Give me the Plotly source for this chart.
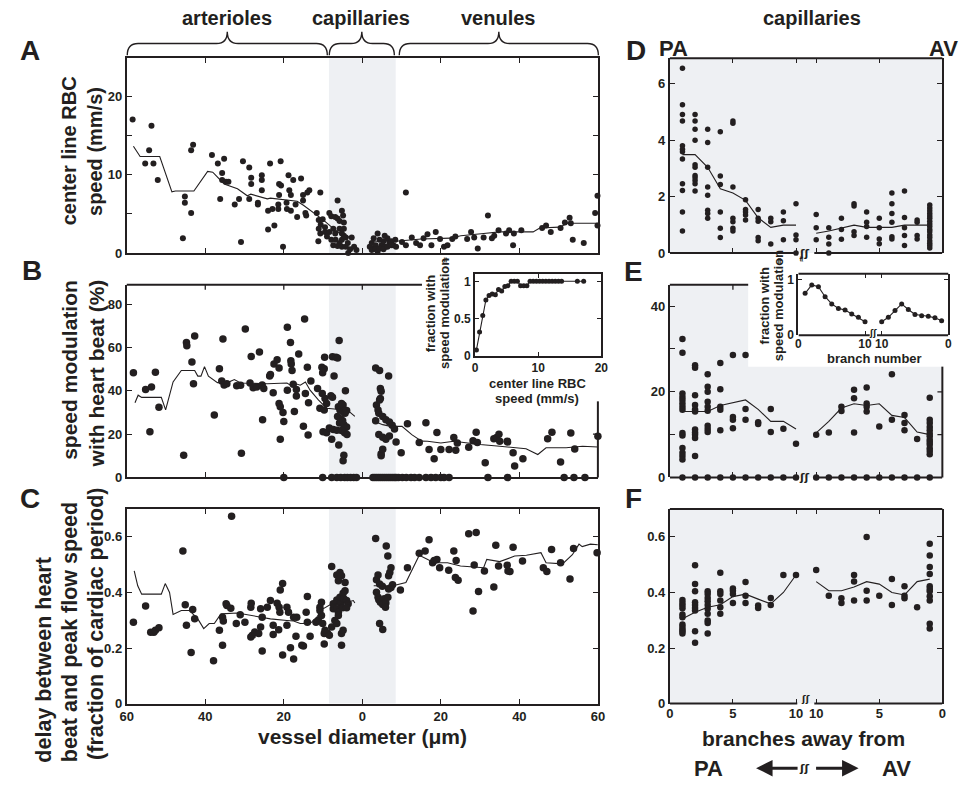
import plotly.graph_objects as go

# ---------------------------------------------------------------- data
# Panel A: centre-line RBC speed (mm/s) vs signed vessel position
# (negative = arteriole side, positive = venule side, |x| = diameter in um)
A_x = [-58.5,-53.7,-54.3,-55.3,-53.2,-52.1,-45.7,-45.2,-45.2,-43.6,
       -43.6,-43.1,-38.3,-36.8,-35.2,-35.7,-35.7,-34.7,-34.1,-36.2,
       -32.5,-31.4,-30.9,-30.4,-28.8,-28.3,-28.3,-28.8,-26.6,-26.6,
       -25.6,-25.6,-25.6,-24.0,-22.4,-23.5,-24.0,-22.9,-21.4,-21.4,
       -20.8,-21.2,-20.7,-21.2,-20.2,-19.3,-18.8,-17.6,-18.6,-18.2,
       -19.2,-18.2,-17.0,-16.6,-15.6,-15.1,-14.5,-14.3,-14.0,-13.5,
       -15.1,-10.7,-10.7,-11.6,-11.1,-10.1,-10.6,-11.1,-9.5,-11.2,
       -6.3,-8.4,-7.9,-5.2,-4.9,-6.9,-6.3,-5.8,-4.7,-9.5,
       -8.4,-7.4,-6.9,-5.8,-5.2,-4.7,-4.7,-9.0,-7.9,-6.8,
       -5.8,-7.4,-6.3,-5.2,-4.2,-5.2,-4.2,-3.6,-3.1,-2.1,
       -2.7,-1.5,-3.7,
       1.9,2.4,2.9,3.4,3.9,3.9,4.4,4.9,5.4,5.9,
       6.4,6.9,7.4,7.9,8.4,2.9,5.7,8.6,2.4,3.4,
       4.4,5.4,6.4,7.4,
       11.1,10.1,11.1,12.6,13.7,14.7,15.6,16.6,17.6,18.7,
       19.8,20.8,21.7,22.9,23.7,26.7,27.7,28.5,29.4,30.9,
       32.0,33.0,33.6,34.7,36.6,37.4,38.4,38.6,40.5,45.8,
       46.8,48.0,50.5,51.6,52.8,53.6,56.4,59.3,59.9,59.9,
       53.1]
A_speed = [17.0,16.2,13.1,11.4,11.4,9.3,1.9,7.2,6.4,5.1,
           13.1,13.8,12.5,11.4,12.0,10.2,9.3,9.1,9.1,6.9,
           6.2,6.9,1.4,11.7,10.9,9.6,8.8,6.9,6.4,6.2,
           9.9,9.3,8.0,3.0,3.5,11.4,5.4,5.6,6.2,5.6,
           11.7,8.8,8.6,7.4,0.8,6.4,9.9,9.3,8.0,7.4,
           5.6,5.4,6.2,4.6,9.5,7.4,5.1,4.8,7.7,8.0,
           6.7,7.7,2.5,5.1,4.2,4.3,3.6,3.1,3.3,1.5,
           6.7,5.1,4.7,5.4,4.8,4.6,4.4,4.1,3.9,2.7,
           2.7,3.1,2.5,3.1,2.5,3.1,2.2,2.1,1.7,1.7,
           1.3,1.0,0.9,1.7,2.0,0.8,0.8,0.0,0.5,0.8,
           2.0,0.4,1.3,
           0.8,1.3,0.6,1.0,0.2,2.5,1.7,1.0,1.5,0.8,
           1.9,1.3,1.5,1.0,1.7,1.9,2.2,0.8,0.4,0.5,
           0.6,0.5,0.8,1.0,
           7.7,1.4,1.0,2.0,1.3,1.0,1.9,2.4,1.0,2.7,
           1.8,0.8,1.0,1.8,2.1,1.8,2.7,2.0,0.6,2.0,
           4.8,1.9,2.2,2.9,2.5,2.9,1.0,2.5,2.9,3.2,
           3.5,2.7,3.2,3.9,4.5,1.7,1.3,5.1,7.3,3.5,
           3.8]
A_avg_art_x = [-58.3,-56.6,-51.6,-50.5,-48.5,-47.6,-42.9,-39.4,-38.1,-35.2,-31.8,-31.0,-29.3,
               -28.4,-24.2,-23.4,-17.5,-16.6,-15.0,-12.0,-9.9,-7.8,-5.7,-4.0,-2.3]
A_avg_art_y = [13.6,12.3,12.3,10.7,7.8,7.9,7.9,10.4,10.3,8.8,8.2,7.9,7.3,
               7.5,6.9,7.0,6.7,6.6,6.1,5.0,4.2,3.3,2.5,2.1,2.0]
A_avg_ven_x = [1.9,2.7,8.6,12.4,15.0,22.5,25.1,30.9,35.0,43.5,45.2,50.2,52.3,60.0]
A_avg_ven_y = [1.3,1.5,1.5,1.7,1.8,1.9,2.2,2.5,2.7,2.7,3.2,3.3,3.8,3.8]

# Panel B: speed modulation with heart beat (%)
B_x = [-58.3,-55.2,-53.7,-52.7,-54.1,-51.8,-45.5,-44.8,-44.7,-42.7,
       -43.4,-43.0,-37.7,-36.4,-35.5,-35.8,-35.2,-34.5,-32.0,-31.0,
       -30.8,-29.8,-28.3,-28.6,-27.8,-26.2,-26.9,-25.5,-25.1,-25.4,
       -23.6,-23.4,-22.7,-22.5,-21.7,-21.2,-21.2,-20.9,-20.2,-20.0,
       -20.9,-19.1,-19.1,-18.3,-18.2,-18.1,-17.9,-17.6,-17.3,-16.8,
       -16.8,-16.2,-15.0,-14.7,-14.5,-14.0,-13.7,-13.8,-13.1,-11.4,
       -10.3,-10.1,-10.2,-9.6,-9.7,-10.8,-9.7,-9.5,-9.1,-10.0,
       -9.1,-8.0,-7.6,-7.6,-6.7,-6.3,-5.9,-7.2,-8.4,-7.4,
       -6.5,-7.8,-6.0,-4.7,-4.9,-4.3,-6.1,-5.7,-5.3,-4.9,
       -4.4,-4.0,-6.3,-5.5,-5.0,-5.8,-4.7,-4.0,-5.3,-4.5,
       -3.9,-5.3,-4.9,
       3.4,4.4,4.6,4.8,6.7,3.6,4.0,4.6,4.4,3.4,
       4.2,5.2,6.0,6.9,7.6,8.2,4.2,5.2,6.0,6.9,
       4.8,4.8,5.2,8.6,9.9,11.5,14.5,
       16.2,19.0,23.3,24.2,23.8,17.0,18.3,20.0,22.1,27.1,
       28.2,29.0,29.3,33.5,34.2,34.8,35.0,36.9,31.3,37.0,
       38.8,40.9,38.4,47.2,48.3,50.5,53.1,54.1,60.0]
B_mod = [48.3,40.6,41.8,48.6,21.1,32.4,10.3,62.3,60.8,65.3,
         53.3,43.3,28.8,50.2,63.9,44.5,42.7,43.3,42.3,42.6,
         11.2,68.5,55.9,43.6,41.4,57.9,41.8,42.7,41.1,26.7,
         46.8,47.6,39.1,52.4,54.4,50.6,34.2,32.7,30.0,25.9,
         17.6,69.4,40.3,62.3,53.9,52.4,49.4,43.0,30.5,40.6,
         37.6,57.0,23.6,73.2,38.8,50.9,34.5,19.6,44.5,41.1,
         50.9,48.3,38.8,55.5,50.2,32.0,31.2,36.5,34.2,21.1,
         20.6,37.7,37.0,55.8,55.5,55.2,63.2,46.8,22.9,22.1,
         21.8,17.6,15.0,10.3,7.7,40.0,32.7,31.2,32.0,30.5,
         29.7,30.9,28.2,27.1,26.2,25.2,24.4,23.3,21.7,20.6,
         19.8,34.2,33.5,
         50.6,49.4,41.1,39.8,46.8,33.5,31.2,36.5,35.8,26.2,
         29.7,28.2,26.7,25.6,24.1,22.4,19.8,18.6,17.6,19.1,
         11.0,10.0,13.0,16.4,11.4,24.8,16.1,
         25.3,20.8,18.5,15.9,12.6,12.9,8.6,12.9,12.9,14.0,
         17.0,20.9,16.2,17.9,18.5,20.0,16.7,16.7,6.8,16.4,
         5.3,8.6,11.4,17.9,20.9,7.1,20.5,13.2,19.0]
B_zero_x = [-20.0,-10.1,-7.8,-6.5,-5.5,-4.5,-3.8,-3.0,-2.2,-1.5,
            2.7,3.2,3.7,4.2,4.7,5.2,5.7,6.2,6.7,7.2,7.7,8.2,8.6,9.2,10.2,
            11.2,12.4,13.3,14.5,16.2,17.5,18.7,20.0,20.8,22.1,32.0,37.0,51.4,53.9,56.7]
B_avg_art_x = [-57.9,-57.1,-56.2,-51.2,-50.1,-48.2,-46.1,-42.7,-41.9,-41.1,-40.2,-39.2,-36.9,-34.3,
               -32.6,-31.0,-24.2,-19.2,-18.3,-17.5,-15.8,-14.5,-13.3,-11.2,-9.1,-6.5,-4.4,-1.9]
B_avg_art_y = [34.5,38.0,37.0,37.0,31.2,44.1,49.4,49.4,46.8,46.8,51.2,46.8,43.8,43.8,
               45.2,43.6,43.3,43.6,42.6,43.6,42.6,44.1,40.3,35.8,32.0,31.5,32.0,28.2]
B_avg_ven_x = [3.1,5.2,7.2,10.1,12.6,15.1,16.6,20.0,23.3,26.7,30.0,35.0,38.4,41.7,44.7,46.8,51.9,56.1,60.0]
B_avg_ven_y = [25.9,24.4,23.6,23.6,19.8,16.8,16.7,15.9,16.7,15.9,15.2,14.4,13.7,13.3,10.6,13.7,13.7,14.4,14.1]

# Panel C: delay between heart beat and peak flow (fraction of cardiac period)
C_x = [-58.3,-55.2,-53.9,-53.1,-52.7,-51.8,-45.7,-45.1,-44.8,-43.2,
       -42.7,-43.6,-37.9,-36.4,-35.6,-35.6,-35.4,-34.7,-34.5,-33.5,
       -33.3,-32.1,-31.1,-29.9,-28.4,-28.0,-27.4,-28.4,-28.3,-26.4,
       -25.9,-25.5,-25.9,-25.5,-24.2,-23.4,-22.7,-22.7,-21.7,-21.2,
       -20.9,-20.3,-21.0,-21.3,-20.3,-19.2,-18.8,-19.2,-18.3,-17.5,
       -16.9,-16.7,-17.5,-15.4,-15.0,-14.3,-14.0,-14.0,-13.3,-11.8,
       -11.2,-10.8,-10.4,-10.8,-10.4,-10.1,-9.5,-9.7,-9.7,-8.9,
       -8.4,-7.8,-7.8,-7.0,-7.4,-6.5,-5.7,-4.9,-4.4,-6.5,
       -5.7,-5.3,-6.1,-4.4,-7.4,-6.5,-6.1,-5.5,-5.0,-4.7,
       -4.0,-3.6,-4.0,-6.1,-6.5,-5.3,-4.9,-5.3,
       3.4,3.6,4.0,4.4,5.1,3.6,4.0,4.2,4.6,5.2,
       5.6,6.0,6.5,5.9,4.4,5.2,6.1,6.5,6.7,7.0,
       7.3,6.7,7.3,7.7,9.7,11.5,14.5,
       16.0,17.0,17.9,18.3,19.0,19.7,22.0,23.3,23.9,23.7,
       24.4,27.1,29.0,28.5,28.2,29.6,31.1,33.5,34.0,34.7,
       36.9,37.1,37.6,38.4,40.8,46.1,47.0,48.2,50.5,52.9,
       53.8,59.8]
C_delay = [0.293,0.351,0.257,0.257,0.264,0.273,0.549,0.356,0.282,0.339,
           0.305,0.184,0.154,0.264,0.210,0.311,0.297,0.359,0.353,0.343,
           0.674,0.288,0.320,0.293,0.240,0.246,0.258,0.347,0.361,0.252,
           0.276,0.311,0.341,0.189,0.347,0.371,0.249,0.282,0.361,0.347,
           0.409,0.432,0.329,0.266,0.175,0.347,0.329,0.282,0.201,0.160,
           0.242,0.311,0.311,0.210,0.207,0.329,0.385,0.293,0.242,0.293,
           0.299,0.347,0.365,0.335,0.317,0.288,0.264,0.252,0.214,0.254,
           0.246,0.493,0.276,0.299,0.341,0.373,0.383,0.397,0.406,0.463,
           0.472,0.460,0.442,0.436,0.359,0.341,0.329,0.359,0.345,0.377,
           0.371,0.359,0.345,0.317,0.288,0.252,0.264,0.210,
           0.594,0.446,0.463,0.430,0.422,0.401,0.383,0.374,0.365,0.357,
           0.377,0.362,0.383,0.347,0.288,0.267,0.567,0.531,0.460,0.472,
           0.489,0.412,0.418,0.428,0.409,0.489,0.541,
           0.549,0.590,0.507,0.515,0.519,0.489,0.480,0.549,0.515,0.454,
           0.444,0.611,0.616,0.499,0.333,0.403,0.477,0.420,0.570,0.495,
           0.498,0.477,0.475,0.563,0.513,0.489,0.475,0.555,0.507,0.448,
           0.558,0.543]
C_avg_art_x = [-58.1,-57.2,-56.2,-51.2,-50.2,-49.1,-48.2,-46.1,-44.0,-41.9,-40.4,-39.0,-37.7,-36.0,-31.8,
               -28.4,-25.9,-23.4,-19.2,-17.5,-15.8,-13.3,-11.6,-10.0,-7.8,-5.7,-4.0,-2.3,-1.9]
C_avg_art_y = [0.478,0.424,0.394,0.394,0.432,0.400,0.321,0.335,0.335,0.305,0.270,0.288,0.288,0.323,0.326,
               0.317,0.311,0.305,0.299,0.297,0.288,0.288,0.311,0.341,0.359,0.356,0.365,0.371,0.362]
C_avg_ven_x = [2.9,7.8,11.1,14.5,18.3,21.7,25.0,30.9,31.7,35.0,38.8,41.8,45.5,46.8,51.0,53.5,55.2,56.0,58.1,60.0]
C_avg_ven_y = [0.424,0.424,0.436,0.534,0.507,0.507,0.495,0.489,0.519,0.511,0.531,0.534,0.543,0.507,
               0.503,0.536,0.574,0.565,0.574,0.572]

# Panels D-F: capillaries by branch number away from PA (left) and AV (right)
BRANCHES = [1, 2, 3, 4, 5, 6, 7, 8, 9, 10]
D_pa = [[6.55,5.26,4.91,4.68,3.80,3.68,3.59,3.33,2.46,2.22,1.46,0.78],
        [4.91,4.68,4.39,4.0,3.13,3.04,2.75,2.67,2.57,2.46,2.20],
        [4.39,3.92,3.04,2.34,2.05,1.52,1.40,1.23],
        [4.30,2.73,2.43,1.46,0.88,0.55],
        [4.68,4.60,2.34,1.23,1.11,0.88,0.78],
        [1.89,1.54,1.46,1.35,1.17],
        [1.54,1.23,1.13,0.55,0.44],
        [1.23,1.11,0.32],
        [1.46,1.15,0.47],
        [1.75,0.64,0.47,0.0]]
D_av = [[1.70,1.60,1.50,1.40,1.31,1.23,1.13,1.03,0.94,0.84,0.76,0.64,0.55,0.44,0.35,0.27,0.18],
        [1.17,1.09,0.62,0.50],
        [2.20,1.26,0.90,0.62,0.27],
        [2.13,1.75,1.40,1.09,0.58,0.50],
        [1.23,0.90,0.50,0.33],
        [1.46,1.09,0.94,0.56],
        [1.75,1.67,0.76,0.62],
        [1.23,0.84,0.49],
        [0.90,0.56,0.32,0.0],
        [1.37,0.90,0.47]]
D_avg_pa = [3.49,3.49,3.04,2.28,2.13,1.87,1.25,0.91,0.99,0.99]
D_avg_av = [0.99,0.99,0.99,0.91,0.91,0.91,0.99,0.88,0.78,0.70]

E_pa = [[32.3,29.1,19.6,18.8,18.1,17.3,16.5,15.8,10.4,9.8,6.9,5.8,5.0,4.2,0.0],
        [26.2,25.6,19.2,16.9,15.9,15.4,11.2,10.5,10.0,9.2,5.0,0.0],
        [24.1,21.2,20.0,17.7,16.5,15.6,12.1,11.3,10.6,0.0],
        [26.7,20.6,16.5,15.8,11.0,0.0],
        [28.6,14.1,13.5,11.5,0.0],
        [28.6,16.0,13.5,0.0],
        [12.9,12.5,0.0],
        [16.0,10.6,0.0],
        [11.4,0.0],
        [7.9,0.0]]
E_av = [[18.6,13.5,12.7,11.8,11.0,10.2,9.6,8.8,8.3,7.7,6.8,6.2,5.4,0.0],
        [9.0,0.0],
        [14.6,12.7,11.0,0.0],
        [24.1,13.5,0.0],
        [11.9,0.0],
        [21.0,17.3,16.5,15.4,0.0],
        [20.5,18.5,10.5,0.0],
        [16.5,15.5,0.0],
        [10.5,0.0],
        [10.0,0.0]]
E_avg_pa = [15.4,15.4,15.4,16.8,17.5,18.1,15.9,13.1,13.1,11.3]
E_avg_av = [10.0,10.6,14.0,14.5,17.2,16.8,17.2,16.2,13.1,10.4]

F_pa = [[0.373,0.362,0.353,0.343,0.321,0.311,0.285,0.276,0.267,0.260,0.252],
        [0.498,0.430,0.404,0.365,0.355,0.344,0.335,0.260,0.219],
        [0.404,0.394,0.380,0.368,0.355,0.341,0.323,0.299,0.290,0.252],
        [0.471,0.404,0.394,0.371,0.347,0.323],
        [0.414,0.406,0.394,0.362],
        [0.438,0.388,0.362],
        [0.353,0.344],
        [0.380,0.355],
        [0.463],
        [0.463]]
F_av = [[0.575,0.533,0.492,0.466,0.422,0.412,0.404,0.386,0.371,0.287,0.270],
        [0.347],
        [0.422,0.388,0.379],
        [0.448,0.355],
        [0.388],
        [0.600,0.406,0.371],
        [0.463,0.439,0.371],
        [0.379,0.362],
        [0.388],
        [0.481]]
F_avg_pa = [0.305,0.329,0.347,0.356,0.385,0.394,0.376,0.359,0.400,0.463]
F_avg_av = [0.448,0.439,0.391,0.400,0.430,0.439,0.420,0.406,0.406,0.439]

# Inset in B: fraction with speed modulation vs centre line speed
INB_speed = [0.2,0.7,1.2,1.7,2.2,2.7,3.2,3.7,4.2,4.7,5.2,5.7,6.2,6.7,7.2,
             7.7,8.2,8.7,9.2,9.7,10.2,10.7,11.2,11.7,12.2,12.7,13.2,13.7,16.2,17.2]
INB_frac = [0.08,0.32,0.54,0.75,0.81,0.83,0.82,0.89,0.87,0.93,0.94,1.0,1.0,1.0,0.94,
            0.94,0.94,1.0,1.0,1.0,1.0,1.0,1.0,1.0,1.0,1.0,1.0,1.0,1.0,1.0]
# Inset in E: fraction with speed modulation vs branch number
INE_pa = [0.75,0.90,0.87,0.69,0.56,0.48,0.45,0.38,0.32,0.24]
INE_av = [0.26,0.31,0.34,0.35,0.37,0.46,0.56,0.44,0.32,0.24]

CAP_BAND = [-8.5, 8.5]          # capillary band on the diameter axis
U_END = 21.6                    # right end of the split branch axis (main)
INE_END = 22.5                  # right end of the split branch axis (inset)

# ---------------------------------------------------------------- style
W, H = 974, 787
FONT = "Liberation Sans"
INK = "#231f20"
SHADE = "#eef0f3"


def P(x):
    return x / W


def Q(y):
    return 1 - y / H


LEFT = [P(121.5), P(599.5)]
RIGHT = [P(672.5), P(949)]
ROW_A = [Q(255), Q(58)]
ROW_B = [Q(482), Q(287)]
ROW_C = [Q(710.7), Q(514)]
INB_X = [P(475), P(603)]
INB_Y = [Q(359), Q(276)]
INE_X = [P(803), P(955)]
INE_Y = [Q(338), Q(276)]


def flat(cols, side, end):
    xs, ys = [], []
    for b, vals in zip(BRANCHES, cols):
        for v in vals:
            xs.append(b if side == "pa" else end - b)
            ys.append(v)
    return xs, ys


fig = go.Figure()


def dots(xs, ys, ax, size):
    fig.add_trace(go.Scatter(x=xs, y=ys, mode="markers", xaxis="x" + ax, yaxis="y" + ax,
                             marker=dict(size=size, color=INK, line=dict(width=0)),
                             cliponaxis=False, showlegend=False, hoverinfo="skip"))


def curve(xs, ys, ax, width=1.1, markers=False, msize=5):
    fig.add_trace(go.Scatter(x=xs, y=ys, mode="lines+markers" if markers else "lines",
                             xaxis="x" + ax, yaxis="y" + ax,
                             line=dict(color=INK, width=width),
                             marker=dict(size=msize, color=INK),
                             cliponaxis=False, showlegend=False, hoverinfo="skip"))


# A
dots(A_x, A_speed, "", 6)
curve(A_avg_art_x, A_avg_art_y, "")
curve(A_avg_ven_x, A_avg_ven_y, "")
# B
dots(B_x, B_mod, "2", 7.5)
dots(B_zero_x, [0.0 for _ in B_zero_x], "2", 7.5)
curve(B_avg_art_x, B_avg_art_y, "2")
curve(B_avg_ven_x, B_avg_ven_y, "2")
# C
dots(C_x, C_delay, "3", 7.5)
curve(C_avg_art_x, C_avg_art_y, "3")
curve(C_avg_ven_x, C_avg_ven_y, "3")
# D / E / F
for ax, pa, av, apa, aav, ms in [("4", D_pa, D_av, D_avg_pa, D_avg_av, 5.5),
                                 ("5", E_pa, E_av, E_avg_pa, E_avg_av, 6.5),
                                 ("6", F_pa, F_av, F_avg_pa, F_avg_av, 6.5)]:
    x1, y1 = flat(pa, "pa", U_END)
    x2, y2 = flat(av, "av", U_END)
    dots(x1, y1, ax, ms)
    dots(x2, y2, ax, ms)
    curve(BRANCHES, apa, ax)
    curve([U_END - b for b in BRANCHES], aav, ax)
# insets
curve(INB_speed, INB_frac, "7", width=1.1, markers=True, msize=5)
curve(BRANCHES, INE_pa, "8", width=1.1, markers=True, msize=5)
curve([INE_END - b for b in BRANCHES], INE_av, "8", width=1.1, markers=True, msize=5)

TICKFONT = dict(family=FONT, size=13, color=INK, weight="bold")
INSET_TICKFONT = dict(family=FONT, size=12, color=INK, weight="bold")


def axis(**kw):
    d = dict(ticks="inside", ticklen=5, tickwidth=1.3, tickcolor=INK, showgrid=False,
             zeroline=False, showline=True, linecolor=INK, linewidth=2, mirror="ticks",
             tickfont=TICKFONT, fixedrange=True, tickmode="array")
    d.update(kw)
    return d


LEFT_TICKS = [-60, -40, -20, 0, 20, 40, 60]
LEFT_TEXT = ["60", "40", "20", "0", "20", "40", "60"]
R_TICKS = [0, 5, 10, U_END - 10, U_END - 5, U_END]
R_TEXT = ["0", "5", "10", "10", "5", "0"]
FRAC_TICKS = [0, 0.2, 0.4, 0.6]
FRAC_TEXT = ["0", "0.2", "0.4", "0.6"]

fig.update_layout(
    width=W, height=H, margin=dict(l=0, r=0, t=0, b=0),
    paper_bgcolor="white", plot_bgcolor="rgba(0,0,0,0)", showlegend=False,
    font=dict(family=FONT, color=INK),
    xaxis=axis(domain=LEFT, anchor="y", range=[-60, 60], tickvals=LEFT_TICKS, showticklabels=False),
    yaxis=axis(domain=ROW_A, anchor="x", range=[0, 24.8], tickvals=[0, 5, 10, 15, 20],
               ticktext=["0", "", "10", "", "20"]),
    xaxis2=axis(domain=LEFT, anchor="y2", range=[-60, 60], tickvals=LEFT_TICKS,
                showticklabels=False, mirror=False),
    yaxis2=axis(domain=ROW_B, anchor="x2", range=[0, 89], tickvals=[0, 20, 40, 60, 80], mirror=False),
    xaxis3=axis(domain=LEFT, anchor="y3", range=[-60, 60], tickvals=LEFT_TICKS, ticktext=LEFT_TEXT),
    yaxis3=axis(domain=ROW_C, anchor="x3", range=[0, 0.7], tickvals=FRAC_TICKS, ticktext=FRAC_TEXT),
    xaxis4=axis(domain=RIGHT, anchor="y4", range=[0, U_END], tickvals=R_TICKS,
                showticklabels=False, showline=False),
    yaxis4=axis(domain=ROW_A, anchor="x4", range=[0, 6.9], tickvals=[0, 2, 4, 6]),
    xaxis5=axis(domain=RIGHT, anchor="y5", range=[0, U_END], tickvals=R_TICKS,
                showticklabels=False, showline=False, mirror=False),
    yaxis5=axis(domain=ROW_B, anchor="x5", range=[0, 45], tickvals=[0, 10, 20, 30, 40],
                ticktext=["0", "", "20", "", "40"], mirror=False),
    xaxis6=axis(domain=RIGHT, anchor="y6", range=[0, U_END], tickvals=R_TICKS, ticktext=R_TEXT,
                showline=False),
    yaxis6=axis(domain=ROW_C, anchor="x6", range=[0, 0.7], tickvals=FRAC_TICKS, ticktext=FRAC_TEXT),
    xaxis7=axis(domain=INB_X, anchor="y7", range=[0, 20], tickvals=[0, 10, 20], ticklen=4,
                tickfont=INSET_TICKFONT),
    yaxis7=axis(domain=INB_Y, anchor="x7", range=[0, 1.1], tickvals=[0, 0.5, 1],
                ticktext=["0", "0.5", "1"], ticklen=4, tickfont=INSET_TICKFONT),
    xaxis8=axis(domain=INE_X, anchor="y8", range=[0, INE_END],
                tickvals=[0, 10, INE_END - 10, INE_END], ticktext=["0", "10", "10", "0"],
                showline=False, ticklen=4, tickfont=INSET_TICKFONT),
    yaxis8=axis(domain=INE_Y, anchor="x8", range=[0, 1.1], tickvals=[0, 1], ticklen=4,
                tickfont=INSET_TICKFONT),
)

# ---------------------------------------------------------------- shapes
shapes = []


def seg(x0, y0, x1, y1, xref, yref, width=2):
    shapes.append(dict(type="line", x0=x0, y0=y0, x1=x1, y1=y1, xref=xref, yref=yref,
                       line=dict(color=INK, width=width), layer="above"))


def box(x0, y0, x1, y1, xref, yref, color):
    shapes.append(dict(type="rect", x0=x0, y0=y0, x1=x1, y1=y1, xref=xref, yref=yref,
                       fillcolor=color, line=dict(width=0), layer="below"))


# capillary shading in A-C
for ax in ["", "2", "3"]:
    box(CAP_BAND[0], 0, CAP_BAND[1], 1, "x" + ax, "y" + ax + " domain", SHADE)
# grey backgrounds D-F
for ax in ["4", "5", "6"]:
    box(0, 0, 1, 1, "x" + ax + " domain", "y" + ax + " domain", SHADE)
# white area behind the E inset
box(0.2875, 0.575, 1.1, 1.1, "x5 domain", "y5 domain", "white")

# B frame (top/right interrupted by inset)
seg(0, 1, 0.6266, 1, "x2 domain", "y2 domain")
seg(1, 0, 1, 0.395, "x2 domain", "y2 domain")
for t in [-40, -20, 0]:
    seg(t, 1, t, 1 - 5 / 195, "x2", "y2 domain", width=1.3)
seg(1, 20, 1 - 5 / 478, 20, "x2 domain", "y2", width=1.3)

# D, F frames: top full, bottom broken
for ax in ["4", "6"]:
    seg(0, 1, 1, 1, "x" + ax + " domain", "y" + ax + " domain")
# E frame
seg(0, 1, 0.2875, 1, "x5 domain", "y5 domain")
seg(1, 0, 1, 0.575, "x5 domain", "y5 domain")
seg(5, 1, 5, 1 - 5 / 195, "x5", "y5 domain", width=1.3)
for t in [10, 20]:
    seg(1, t, 1 - 5 / 276.5, t, "x5 domain", "y5", width=1.3)
for ax in ["4", "5", "6"]:
    seg(0, 0, 10.1, 0, "x" + ax, "y" + ax + " domain")
    seg(11.45, 0, U_END, 0, "x" + ax, "y" + ax + " domain")
# E inset frame
seg(0, 1, 1, 1, "x8 domain", "y8 domain")
seg(0, 0, 10.7, 0, "x8", "y8 domain")
seg(11.8, 0, INE_END, 0, "x8", "y8 domain")


# braces
def brace(xa, xb, ye=55, ym=43, yt=31, r=11):
    xm = (xa + xb) / 2
    path = (f"M {P(xa)},{Q(ye)} Q {P(xa)},{Q(ym)} {P(xa + r)},{Q(ym)} "
            f"L {P(xm - r)},{Q(ym)} Q {P(xm)},{Q(ym)} {P(xm)},{Q(yt)} "
            f"Q {P(xm)},{Q(ym)} {P(xm + r)},{Q(ym)} L {P(xb - r)},{Q(ym)} "
            f"Q {P(xb)},{Q(ym)} {P(xb)},{Q(ye)}")
    shapes.append(dict(type="path", path=path, xref="paper", yref="paper",
                       line=dict(color=INK, width=1.4), layer="above"))


brace(122, 325)
brace(327, 393)
brace(398, 600)

fig.update_layout(shapes=shapes)


# ---------------------------------------------------------------- text
def label(s, x, y, size=20, angle=0, xanchor="center", yanchor="middle", family=FONT):
    fig.add_annotation(text=s, x=P(x), y=Q(y), xref="paper", yref="paper", showarrow=False,
                       textangle=angle, xanchor=xanchor, yanchor=yanchor,
                       font=dict(family=family, size=size, color=INK, weight="bold"))


label("arterioles", 223, 17)
label("capillaries", 359, 17)
label("venules", 498, 17)
label("capillaries", 817, 17)

for s, x, y in [("A", 23, 50), ("B", 25, 273), ("C", 23, 503),
                ("D", 638, 50), ("E", 636, 274), ("F", 636, 503)]:
    label(s, x, y, size=28)

label("PA", 676, 48, size=22)
label("AV", 950, 48, size=22)

label("center line RBC", 63, 152, angle=-90, size=20)
label("speed (mm/s)", 90, 152, angle=-90, size=20)
label("speed modulation", 64, 373, angle=-90, size=21)
label("with heart beat (%)", 91, 377, angle=-90, size=21)
label("delay between heart", 38, 772, angle=-90, size=21.5, yanchor="bottom")
label("beat and peak flow speed", 64, 772, angle=-90, size=21.5, yanchor="bottom")
label("(fraction of cardiac period)", 90, 770, angle=-90, size=21.5, yanchor="bottom")

label("vessel diameter (\u03bcm)", 361, 744, size=21)
label("branches away from", 808, 746, size=21)
label("PA", 712, 776, size=22)
label("AV", 902, 776, size=22)

# inset titles
label("fraction with", 430, 316, size=13, angle=-90)
label("speed modulation", 444, 316, size=13, angle=-90)
label("center line RBC", 538, 387, size=13)
label("speed (mm/s)", 538, 402, size=13)
label("fraction with", 769, 308, size=13, angle=-90)
label("speed modulation", 783, 308, size=13, angle=-90)
label("branch number", 880, 362, size=13)

# axis-break marks
for s, x, y, sz in [("\u0283\u0283", 809, 255, 11), ("\u0283\u0283", 809, 482, 11),
                    ("\u0283\u0283", 810, 706, 9), ("\u0283\u0283", 809, 776, 11)]:
    label(s, x, y, size=sz, family="DejaVu Sans")
label("\u0283\u0283", 879, 336, size=8, family="DejaVu Sans")
for x, y in [(445, 262), (783, 263), (807, 261)]:
    label("\u2248", x, y, size=8, angle=90, family="DejaVu Sans")

# arrows
fig.add_annotation(x=P(760), y=Q(776), xref="paper", yref="paper", ax=43, ay=0,
                   axref="pixel", ayref="pixel", showarrow=True, arrowhead=2, arrowsize=1.1,
                   arrowwidth=3, arrowcolor=INK, text="")
fig.add_annotation(x=P(864), y=Q(776), xref="paper", yref="paper", ax=-44, ay=0,
                   axref="pixel", ayref="pixel", showarrow=True, arrowhead=2, arrowsize=1.1,
                   arrowwidth=3, arrowcolor=INK, text="")

fig.write_html("out.html")
